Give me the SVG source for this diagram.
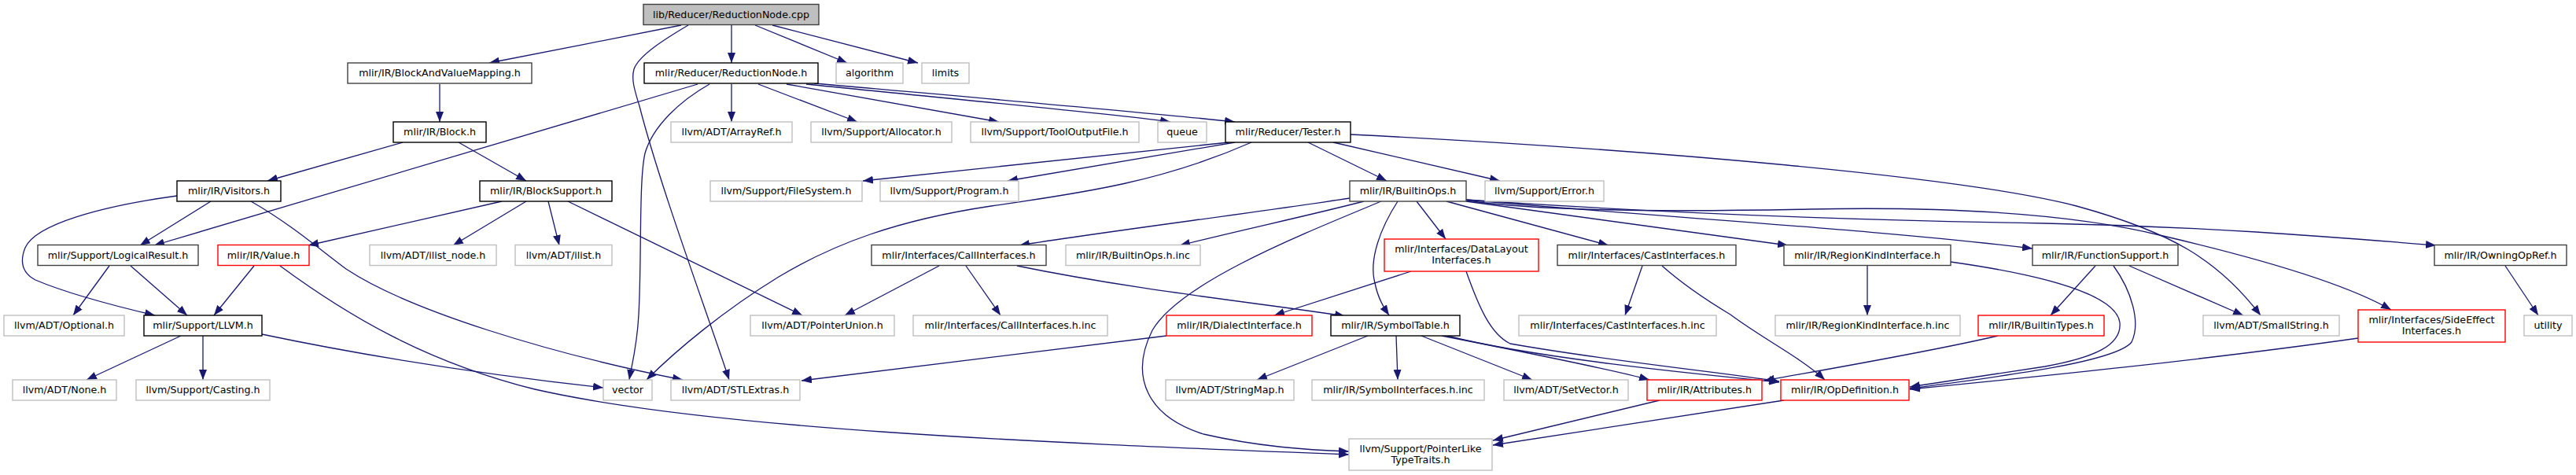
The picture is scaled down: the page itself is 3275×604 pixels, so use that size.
<svg xmlns="http://www.w3.org/2000/svg" width="3275" height="604" viewBox="0 0 3275 604">
<style>
.n rect{fill:#fff;stroke:#000;stroke-width:1.4}
.n.dk rect{stroke:#404040}
.n.gr rect{stroke:#bfbfbf}
.n.rd rect{stroke:#ff0000}
.n.root rect{fill:#bfbfbf;stroke:#404040}
.n text{font-family:"DejaVu Sans","Liberation Sans",sans-serif;font-size:12.67px;text-anchor:middle;fill:#000}
.e path{fill:none;stroke:#191970;stroke-width:1.3;marker-end:url(#a)}
</style>
<defs>
<marker id="a" markerUnits="userSpaceOnUse" markerWidth="14" markerHeight="10" refX="13" refY="5" orient="auto"><path d="M0,0 L13,5 L0,10 z" fill="#191970"/></marker>
</defs>
<rect width="3275" height="604" fill="#fff"/>
<g id="edges" class="e">
<path d="M866,32 C800,45 690,67 622,80"/>
<path d="M930,32 L930,80"/>
<path d="M960,32 L1077,80"/>
<path d="M982,32 L1167,80"/>
<path d="M875,32 C848,48 812,70 806,88 C802,102 808,118 813,135 C840,240 900,400 927,483"/>
<path d="M887,107 L196,312"/>
<path d="M902,107 C865,128 830,160 820,195 C812,230 816,330 812,400 C810,440 803,465 800,483"/>
<path d="M930,107 L930,155"/>
<path d="M964,107 L1090,155"/>
<path d="M1000,107 L1270,155"/>
<path d="M1025,107 C1200,125 1420,145 1488,155"/>
<path d="M1035,106 C1250,125 1480,145 1570,155"/>
<path d="M1562,181 L1097,230"/>
<path d="M1570,181 L1281,230"/>
<path d="M1591,181 C1480,230 1380,245 1260,262 C1140,280 1060,310 990,352 C920,395 860,445 822,483"/>
<path d="M1663,181 L1763,230"/>
<path d="M1695,181 L1907,230"/>
<path d="M1717,171 C2100,190 2500,225 2640,262 C2760,295 2820,330 2874,401"/>
<path d="M1716,252 C1600,270 1400,295 1296,312"/>
<path d="M1734,256 C1660,275 1580,292 1500,312"/>
<path d="M1756,256 C1650,300 1500,360 1465,420 C1435,480 1460,530 1530,552 C1600,568 1660,572 1715,574"/>
<path d="M1777,256 C1755,290 1740,330 1748,360 C1752,380 1760,392 1766,401"/>
<path d="M1801,256 L1838,304"/>
<path d="M1839,256 L2045,312"/>
<path d="M1864,256 L2273,312"/>
<path d="M1864,254 C2100,275 2400,293 2584,316"/>
<path d="M1864,254 C2100,270 2350,280 2600,284 C2800,288 2950,300 3097,312"/>
<path d="M1865,255 C1950,268 2100,270 2300,266 C2500,262 2650,275 2750,300 C2900,335 2990,365 3040,394"/>
<path d="M559,107 L559,155"/>
<path d="M512,181 L340,230"/>
<path d="M583,181 L669,230"/>
<path d="M268,256 L178,312"/>
<path d="M225,249 C130,262 45,285 32,315 C24,335 30,348 45,356 C90,375 150,390 197,401"/>
<path d="M319,256 C370,285 410,320 440,342 C520,395 700,450 868,483"/>
<path d="M638,256 L392,312"/>
<path d="M669,256 L576,312"/>
<path d="M697,256 L711,312"/>
<path d="M722,256 L1020,401"/>
<path d="M139,338 L93,401"/>
<path d="M166,338 L238,401"/>
<path d="M323,338 L272,401"/>
<path d="M356,338 C440,400 540,460 680,495 C900,545 1300,562 1715,578"/>
<path d="M230,427 L110,483"/>
<path d="M258,427 L258,483"/>
<path d="M333,425 C500,460 650,480 767,493"/>
<path d="M1194,338 L1074,401"/>
<path d="M1228,338 L1272,401"/>
<path d="M1293,338 C1450,370 1600,385 1710,402"/>
<path d="M1794,345 L1620,401"/>
<path d="M1864,345 C1880,390 1895,425 1920,437 C2050,460 2180,472 2262,485"/>
<path d="M1483,427 L1019,484"/>
<path d="M1739,427 L1598,483"/>
<path d="M1775,427 L1777,483"/>
<path d="M1807,427 L1948,483"/>
<path d="M1833,427 C1950,450 2050,470 2097,483"/>
<path d="M1840,427 C1950,455 2150,475 2262,486"/>
<path d="M2088,338 L2066,401"/>
<path d="M2113,338 C2140,362 2175,385 2200,400 C2240,430 2290,455 2320,483"/>
<path d="M2374,338 L2374,401"/>
<path d="M2480,333 C2600,350 2690,375 2695,410 C2698,440 2660,455 2600,466 C2520,478 2460,487 2428,492"/>
<path d="M2664,338 L2607,401"/>
<path d="M2687,338 C2710,370 2722,410 2710,435 C2690,460 2550,478 2428,494"/>
<path d="M2707,338 L2852,401"/>
<path d="M2998,430 C2800,458 2600,478 2428,495"/>
<path d="M2540,427 C2450,448 2320,470 2243,484"/>
<path d="M3185,338 L3227,401"/>
<path d="M2110,509 L1898,560"/>
<path d="M2268,509 L1898,566"/>
</g>
<g id="n_root" class="n root"><rect x="818" y="5.5" width="223" height="26"/><text x="929.5" y="22.5">lib/Reducer/ReductionNode.cpp</text></g>
<g id="n_bavm" class="n dk"><rect x="442" y="80" width="234" height="26"/><text x="559" y="97">mlir/IR/BlockAndValueMapping.h</text></g>
<g id="n_rnh" class="n"><rect x="819" y="80" width="221" height="26"/><text x="929.5" y="97">mlir/Reducer/ReductionNode.h</text></g>
<g id="n_algorithm" class="n gr"><rect x="1063" y="80" width="85" height="26"/><text x="1105.5" y="97">algorithm</text></g>
<g id="n_limits" class="n gr"><rect x="1172" y="80" width="60" height="26"/><text x="1202" y="97">limits</text></g>
<g id="n_block" class="n"><rect x="500" y="155" width="118" height="26"/><text x="559" y="172">mlir/IR/Block.h</text></g>
<g id="n_arrayref" class="n gr"><rect x="853" y="155" width="154" height="26"/><text x="930" y="172">llvm/ADT/ArrayRef.h</text></g>
<g id="n_allocator" class="n gr"><rect x="1031" y="155" width="179" height="26"/><text x="1120.5" y="172">llvm/Support/Allocator.h</text></g>
<g id="n_tooloutput" class="n gr"><rect x="1234" y="155" width="214" height="26"/><text x="1341" y="172">llvm/Support/ToolOutputFile.h</text></g>
<g id="n_queue" class="n gr"><rect x="1472" y="155" width="62" height="26"/><text x="1503" y="172">queue</text></g>
<g id="n_tester" class="n"><rect x="1558" y="155" width="159" height="26"/><text x="1637.5" y="172">mlir/Reducer/Tester.h</text></g>
<g id="n_visitors" class="n"><rect x="225" y="230" width="132" height="26"/><text x="291" y="247">mlir/IR/Visitors.h</text></g>
<g id="n_blocksupport" class="n"><rect x="610" y="230" width="168" height="26"/><text x="694" y="247">mlir/IR/BlockSupport.h</text></g>
<g id="n_filesystem" class="n gr"><rect x="903" y="230" width="193" height="26"/><text x="999.5" y="247">llvm/Support/FileSystem.h</text></g>
<g id="n_program" class="n gr"><rect x="1119" y="230" width="176" height="26"/><text x="1207" y="247">llvm/Support/Program.h</text></g>
<g id="n_builtinops" class="n dk"><rect x="1716" y="230" width="148" height="26"/><text x="1790" y="247">mlir/IR/BuiltinOps.h</text></g>
<g id="n_error" class="n gr"><rect x="1888" y="230" width="151" height="26"/><text x="1963.5" y="247">llvm/Support/Error.h</text></g>
<g id="n_logicalresult" class="n dk"><rect x="48" y="311.5" width="204" height="26"/><text x="150" y="328.5">mlir/Support/LogicalResult.h</text></g>
<g id="n_value" class="n rd"><rect x="277" y="311.5" width="116" height="26"/><text x="335" y="328.5">mlir/IR/Value.h</text></g>
<g id="n_ilistnode" class="n gr"><rect x="470" y="311.5" width="161" height="26"/><text x="550.5" y="328.5">llvm/ADT/ilist_node.h</text></g>
<g id="n_ilist" class="n gr"><rect x="655" y="311.5" width="123" height="26"/><text x="716.5" y="328.5">llvm/ADT/ilist.h</text></g>
<g id="n_callif" class="n dk"><rect x="1108" y="311.5" width="222" height="26"/><text x="1219" y="328.5">mlir/Interfaces/CallInterfaces.h</text></g>
<g id="n_builtinopsinc" class="n gr"><rect x="1355" y="311.5" width="171" height="26"/><text x="1440.5" y="328.5">mlir/IR/BuiltinOps.h.inc</text></g>
<g id="n_datalayout" class="n rd"><rect x="1760" y="304" width="196" height="41"/><text x="1858" y="320.5">mlir/Interfaces/DataLayout</text><text x="1858" y="334.5">Interfaces.h</text></g>
<g id="n_castif" class="n dk"><rect x="1980" y="311.5" width="227" height="26"/><text x="2093.5" y="328.5">mlir/Interfaces/CastInterfaces.h</text></g>
<g id="n_regionkind" class="n dk"><rect x="2268" y="311.5" width="212" height="26"/><text x="2374" y="328.5">mlir/IR/RegionKindInterface.h</text></g>
<g id="n_funcsupport" class="n dk"><rect x="2584" y="311.5" width="185" height="26"/><text x="2676.5" y="328.5">mlir/IR/FunctionSupport.h</text></g>
<g id="n_owningopref" class="n dk"><rect x="3095" y="311.5" width="168" height="26"/><text x="3179" y="328.5">mlir/IR/OwningOpRef.h</text></g>
<g id="n_optional" class="n gr"><rect x="5" y="401" width="153" height="26"/><text x="81.5" y="418">llvm/ADT/Optional.h</text></g>
<g id="n_llvm" class="n"><rect x="183" y="401" width="150" height="26"/><text x="258" y="418">mlir/Support/LLVM.h</text></g>
<g id="n_pointerunion" class="n gr"><rect x="954" y="401" width="183" height="26"/><text x="1045.5" y="418">llvm/ADT/PointerUnion.h</text></g>
<g id="n_callifinc" class="n gr"><rect x="1161" y="401" width="247" height="26"/><text x="1284.5" y="418">mlir/Interfaces/CallInterfaces.h.inc</text></g>
<g id="n_dialectif" class="n rd"><rect x="1483" y="401" width="185" height="26"/><text x="1575.5" y="418">mlir/IR/DialectInterface.h</text></g>
<g id="n_symboltable" class="n"><rect x="1692" y="401" width="164" height="26"/><text x="1774" y="418">mlir/IR/SymbolTable.h</text></g>
<g id="n_castifinc" class="n gr"><rect x="1931" y="401" width="251" height="26"/><text x="2056.5" y="418">mlir/Interfaces/CastInterfaces.h.inc</text></g>
<g id="n_regionkindinc" class="n gr"><rect x="2257" y="401" width="235" height="26"/><text x="2374.5" y="418">mlir/IR/RegionKindInterface.h.inc</text></g>
<g id="n_builtintypes" class="n rd"><rect x="2515" y="401" width="160" height="26"/><text x="2595" y="418">mlir/IR/BuiltinTypes.h</text></g>
<g id="n_smallstring" class="n gr"><rect x="2801" y="401" width="173" height="26"/><text x="2887.5" y="418">llvm/ADT/SmallString.h</text></g>
<g id="n_sideeffect" class="n rd"><rect x="2998" y="394" width="187" height="41"/><text x="3091.5" y="410.5">mlir/Interfaces/SideEffect</text><text x="3091.5" y="424.5">Interfaces.h</text></g>
<g id="n_utility" class="n gr"><rect x="3209" y="401" width="61" height="26"/><text x="3239.5" y="418">utility</text></g>
<g id="n_none" class="n gr"><rect x="16" y="483" width="132" height="26"/><text x="82" y="500">llvm/ADT/None.h</text></g>
<g id="n_casting" class="n gr"><rect x="173" y="483" width="170" height="26"/><text x="258" y="500">llvm/Support/Casting.h</text></g>
<g id="n_vector" class="n gr"><rect x="767" y="483" width="62" height="26"/><text x="798" y="500">vector</text></g>
<g id="n_stlextras" class="n gr"><rect x="853" y="483" width="164" height="26"/><text x="935" y="500">llvm/ADT/STLExtras.h</text></g>
<g id="n_stringmap" class="n gr"><rect x="1482" y="483" width="163" height="26"/><text x="1563.5" y="500">llvm/ADT/StringMap.h</text></g>
<g id="n_symifinc" class="n gr"><rect x="1668" y="483" width="219" height="26"/><text x="1777.5" y="500">mlir/IR/SymbolInterfaces.h.inc</text></g>
<g id="n_setvector" class="n gr"><rect x="1912" y="483" width="158" height="26"/><text x="1991" y="500">llvm/ADT/SetVector.h</text></g>
<g id="n_attributes" class="n rd"><rect x="2094" y="483" width="146" height="26"/><text x="2167" y="500">mlir/IR/Attributes.h</text></g>
<g id="n_opdefinition" class="n rd"><rect x="2264" y="483" width="163" height="26"/><text x="2345.5" y="500">mlir/IR/OpDefinition.h</text></g>
<g id="n_pointerlike" class="n gr"><rect x="1715" y="558" width="182" height="40"/><text x="1806" y="574.5">llvm/Support/PointerLike</text><text x="1806" y="588.5">TypeTraits.h</text></g>
</svg>
